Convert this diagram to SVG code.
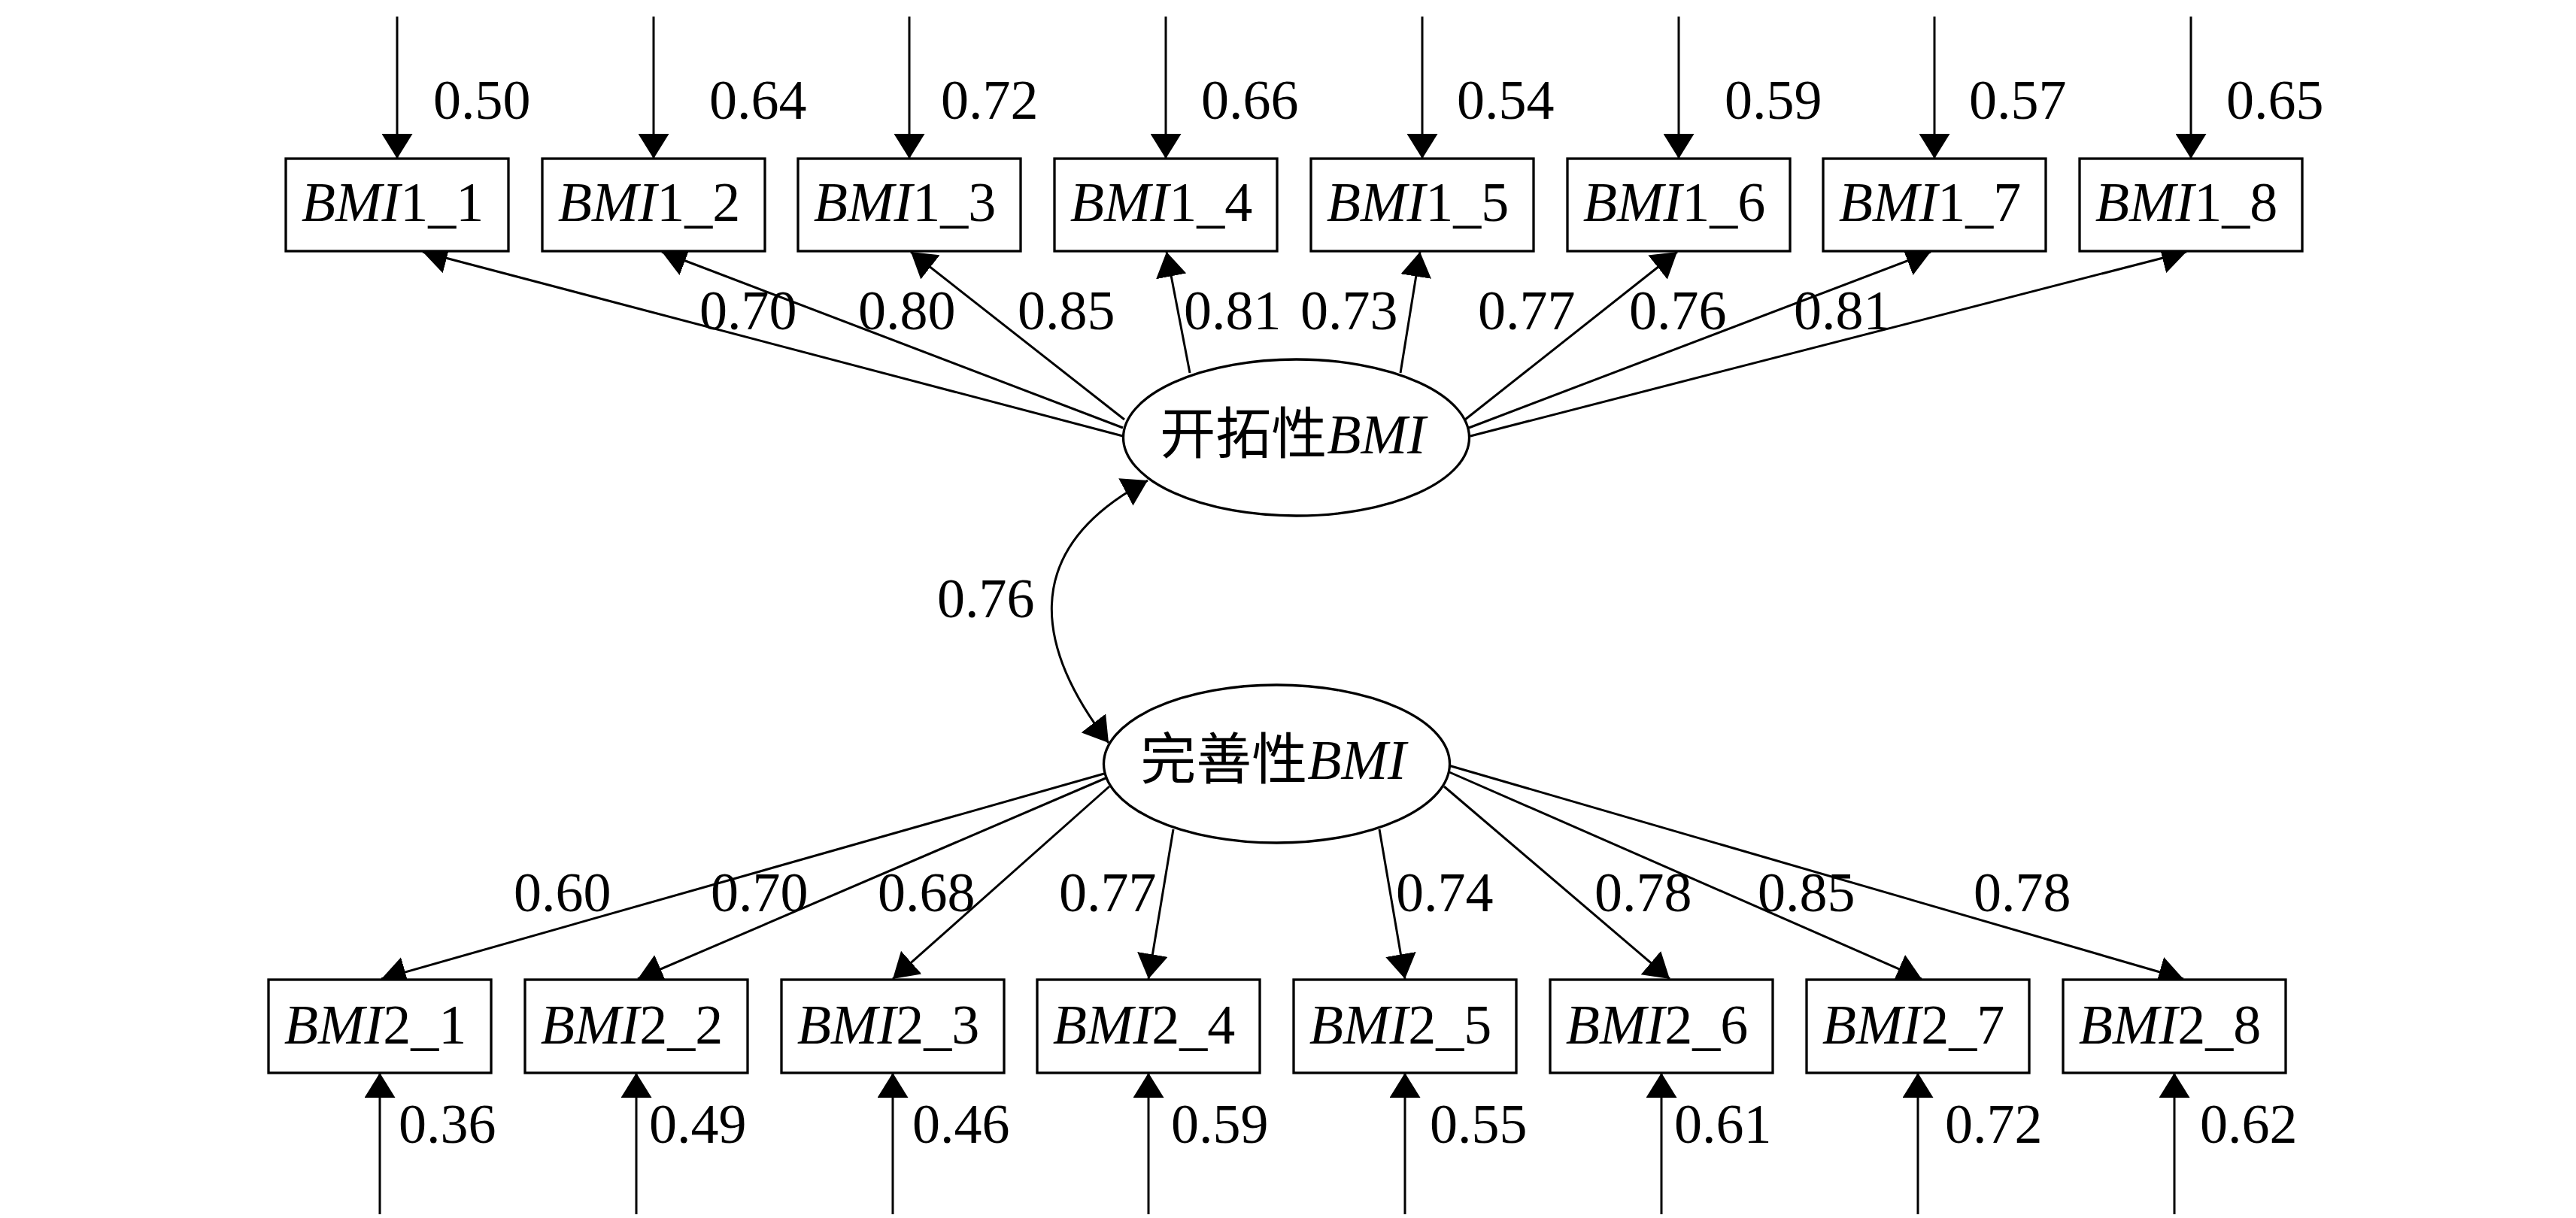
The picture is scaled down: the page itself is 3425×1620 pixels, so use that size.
<svg xmlns="http://www.w3.org/2000/svg" width="3425" height="1620" viewBox="0 0 3425 1620">
<style>
.box{fill:#fff;stroke:#000;stroke-width:3.3}
.ell{fill:#fff;stroke:#000;stroke-width:3.3}
.ln{fill:none;stroke:#000;stroke-width:3}
.t{font-family:"Liberation Serif","Times New Roman","Noto Sans CJK SC",serif;font-size:74px;fill:#000}
.c{text-anchor:middle}
.i{font-style:italic}
.cjk{font-family:"Noto Sans CJK SC","Liberation Serif",sans-serif}
</style>
<defs>
<marker id="ah" markerUnits="userSpaceOnUse" viewBox="0 0 33 41" markerWidth="33" markerHeight="41" refX="33" refY="20.5" orient="auto"><path d="M0,0 L33,20.5 L0,41 Z" fill="#000"/></marker>
<marker id="ah2" markerUnits="userSpaceOnUse" viewBox="0 0 33 41" markerWidth="33" markerHeight="41" refX="33" refY="20.5" orient="auto-start-reverse"><path d="M0,0 L33,20.5 L0,41 Z" fill="#000"/></marker>
</defs>
<rect width="3425" height="1620" fill="#fff"/>
<g id="connectors">
<line class="ln" x1="528" y1="22" x2="528" y2="211" marker-end="url(#ah)"/>
<line class="ln" x1="869" y1="22" x2="869" y2="211" marker-end="url(#ah)"/>
<line class="ln" x1="1209" y1="22" x2="1209" y2="211" marker-end="url(#ah)"/>
<line class="ln" x1="1550" y1="22" x2="1550" y2="211" marker-end="url(#ah)"/>
<line class="ln" x1="1891" y1="22" x2="1891" y2="211" marker-end="url(#ah)"/>
<line class="ln" x1="2232" y1="22" x2="2232" y2="211" marker-end="url(#ah)"/>
<line class="ln" x1="2572" y1="22" x2="2572" y2="211" marker-end="url(#ah)"/>
<line class="ln" x1="2913" y1="22" x2="2913" y2="211" marker-end="url(#ah)"/>
<line class="ln" x1="1493" y1="580" x2="562" y2="335" marker-end="url(#ah)"/>
<line class="ln" x1="1493" y1="569" x2="880" y2="335" marker-end="url(#ah)"/>
<line class="ln" x1="1495" y1="558" x2="1211" y2="335" marker-end="url(#ah)"/>
<line class="ln" x1="1582" y1="496" x2="1551" y2="335" marker-end="url(#ah)"/>
<line class="ln" x1="1862" y1="496" x2="1888" y2="335" marker-end="url(#ah)"/>
<line class="ln" x1="1948" y1="558" x2="2230" y2="335" marker-end="url(#ah)"/>
<line class="ln" x1="1953" y1="569" x2="2567" y2="335" marker-end="url(#ah)"/>
<line class="ln" x1="1955" y1="580" x2="2907" y2="335" marker-end="url(#ah)"/>
<path class="ln" d="M1526,639 C1345,735 1384,871 1474,988" marker-start="url(#ah2)" marker-end="url(#ah2)"/>
<line class="ln" x1="1468" y1="1029" x2="507" y2="1302" marker-end="url(#ah)"/>
<line class="ln" x1="1470" y1="1035" x2="848" y2="1302" marker-end="url(#ah)"/>
<line class="ln" x1="1475" y1="1046" x2="1187" y2="1302" marker-end="url(#ah)"/>
<line class="ln" x1="1560" y1="1103" x2="1527" y2="1302" marker-end="url(#ah)"/>
<line class="ln" x1="1834" y1="1103" x2="1868" y2="1302" marker-end="url(#ah)"/>
<line class="ln" x1="1920" y1="1046" x2="2220" y2="1302" marker-end="url(#ah)"/>
<line class="ln" x1="1927" y1="1027" x2="2555" y2="1302" marker-end="url(#ah)"/>
<line class="ln" x1="1926" y1="1018" x2="2903" y2="1302" marker-end="url(#ah)"/>
<line class="ln" x1="505" y1="1615" x2="505" y2="1427" marker-end="url(#ah)"/>
<line class="ln" x1="846" y1="1615" x2="846" y2="1427" marker-end="url(#ah)"/>
<line class="ln" x1="1187" y1="1615" x2="1187" y2="1427" marker-end="url(#ah)"/>
<line class="ln" x1="1527" y1="1615" x2="1527" y2="1427" marker-end="url(#ah)"/>
<line class="ln" x1="1868" y1="1615" x2="1868" y2="1427" marker-end="url(#ah)"/>
<line class="ln" x1="2209" y1="1615" x2="2209" y2="1427" marker-end="url(#ah)"/>
<line class="ln" x1="2550" y1="1615" x2="2550" y2="1427" marker-end="url(#ah)"/>
<line class="ln" x1="2891" y1="1615" x2="2891" y2="1427" marker-end="url(#ah)"/>
</g>
<g id="connector-labels" class="t">
<text x="576" y="158">0.50</text>
<text x="943" y="158">0.64</text>
<text x="1251" y="158">0.72</text>
<text x="1597" y="158">0.66</text>
<text x="1937" y="158">0.54</text>
<text x="2293" y="158">0.59</text>
<text x="2618" y="158">0.57</text>
<text x="2960" y="158">0.65</text>
<text x="930" y="438">0.70</text>
<text x="1141" y="438">0.80</text>
<text x="1353" y="438">0.85</text>
<text x="1574" y="438">0.81</text>
<text x="1729" y="438">0.73</text>
<text x="1965" y="438">0.77</text>
<text x="2166" y="438">0.76</text>
<text x="2385" y="438">0.81</text>
<text x="1246" y="821">0.76</text>
<text x="683" y="1212">0.60</text>
<text x="945" y="1212">0.70</text>
<text x="1167" y="1212">0.68</text>
<text x="1408" y="1212">0.77</text>
<text x="1856" y="1212">0.74</text>
<text x="2120" y="1212">0.78</text>
<text x="2337" y="1212">0.85</text>
<text x="2624" y="1212">0.78</text>
<text x="530" y="1520">0.36</text>
<text x="863" y="1520">0.49</text>
<text x="1213" y="1520">0.46</text>
<text x="1557" y="1520">0.59</text>
<text x="1901" y="1520">0.55</text>
<text x="2226" y="1520">0.61</text>
<text x="2586" y="1520">0.72</text>
<text x="2925" y="1520">0.62</text>
</g>
<g id="F1"><ellipse class="ell" cx="1723.5" cy="582" rx="230" ry="104"/><text class="t c" x="1719" y="603"><tspan class="cjk">开拓性</tspan><tspan class="i">BMI</tspan></text></g>
<g id="F2"><ellipse class="ell" cx="1697.5" cy="1016" rx="230" ry="105"/><text class="t c" x="1693" y="1036"><tspan class="cjk">完善性</tspan><tspan class="i">BMI</tspan></text></g>
<g id="BMI1_1"><rect class="box" x="380" y="211" width="296" height="123"/><text class="t c" x="522" y="294"><tspan class="i">BMI</tspan>1_1</text></g>
<g id="BMI1_2"><rect class="box" x="721" y="211" width="296" height="123"/><text class="t c" x="863" y="294"><tspan class="i">BMI</tspan>1_2</text></g>
<g id="BMI1_3"><rect class="box" x="1061" y="211" width="296" height="123"/><text class="t c" x="1203" y="294"><tspan class="i">BMI</tspan>1_3</text></g>
<g id="BMI1_4"><rect class="box" x="1402" y="211" width="296" height="123"/><text class="t c" x="1544" y="294"><tspan class="i">BMI</tspan>1_4</text></g>
<g id="BMI1_5"><rect class="box" x="1743" y="211" width="296" height="123"/><text class="t c" x="1885" y="294"><tspan class="i">BMI</tspan>1_5</text></g>
<g id="BMI1_6"><rect class="box" x="2084" y="211" width="296" height="123"/><text class="t c" x="2226" y="294"><tspan class="i">BMI</tspan>1_6</text></g>
<g id="BMI1_7"><rect class="box" x="2424" y="211" width="296" height="123"/><text class="t c" x="2566" y="294"><tspan class="i">BMI</tspan>1_7</text></g>
<g id="BMI1_8"><rect class="box" x="2765" y="211" width="296" height="123"/><text class="t c" x="2907" y="294"><tspan class="i">BMI</tspan>1_8</text></g>
<g id="BMI2_1"><rect class="box" x="357" y="1303" width="296" height="124"/><text class="t c" x="499" y="1388"><tspan class="i">BMI</tspan>2_1</text></g>
<g id="BMI2_2"><rect class="box" x="698" y="1303" width="296" height="124"/><text class="t c" x="840" y="1388"><tspan class="i">BMI</tspan>2_2</text></g>
<g id="BMI2_3"><rect class="box" x="1039" y="1303" width="296" height="124"/><text class="t c" x="1181" y="1388"><tspan class="i">BMI</tspan>2_3</text></g>
<g id="BMI2_4"><rect class="box" x="1379" y="1303" width="296" height="124"/><text class="t c" x="1521" y="1388"><tspan class="i">BMI</tspan>2_4</text></g>
<g id="BMI2_5"><rect class="box" x="1720" y="1303" width="296" height="124"/><text class="t c" x="1862" y="1388"><tspan class="i">BMI</tspan>2_5</text></g>
<g id="BMI2_6"><rect class="box" x="2061" y="1303" width="296" height="124"/><text class="t c" x="2203" y="1388"><tspan class="i">BMI</tspan>2_6</text></g>
<g id="BMI2_7"><rect class="box" x="2402" y="1303" width="296" height="124"/><text class="t c" x="2544" y="1388"><tspan class="i">BMI</tspan>2_7</text></g>
<g id="BMI2_8"><rect class="box" x="2743" y="1303" width="296" height="124"/><text class="t c" x="2885" y="1388"><tspan class="i">BMI</tspan>2_8</text></g>
</svg>
